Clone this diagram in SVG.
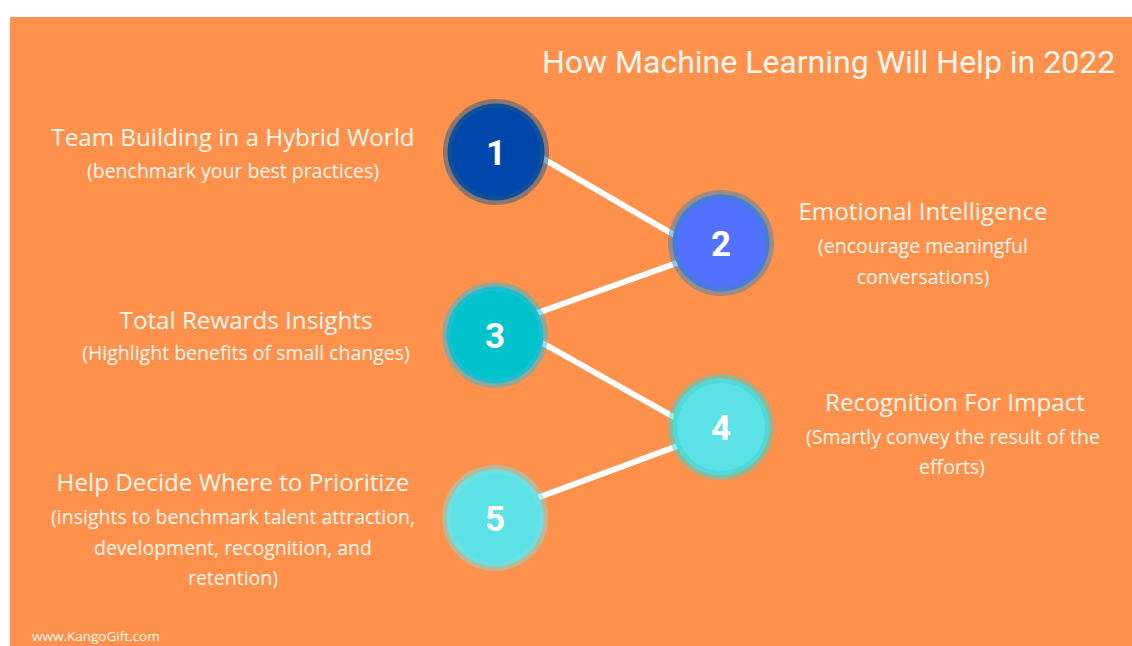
<svg xmlns="http://www.w3.org/2000/svg" width="1132" height="646" viewBox="0 0 1132 646">
<style>
.h{font-family:"Open Sans","Liberation Sans",sans-serif;font-size:24.2px;fill:#fff7ee;text-anchor:middle}
.s{font-family:"Open Sans","Liberation Sans",sans-serif;font-size:19.5px;fill:#fff7ee;text-anchor:middle}
.n{font-family:Roboto,"Liberation Sans",sans-serif;font-size:35px;font-weight:700;fill:#ffffff;text-anchor:middle}
.t{font-family:Roboto,"Liberation Sans",sans-serif;font-size:32px;fill:#fff7ee}
.c{stroke-width:9;stroke-opacity:0.5}
.ln{stroke:#ffffff;stroke-width:6;stroke-linecap:butt;fill:none}
</style>
<rect x="0" y="0" width="1132" height="646" fill="#ffffff"/>
<rect x="10" y="17" width="1122" height="629" fill="#ff914d"/>
<text class="t" x="542" y="73">How Machine Learning Will Help in 2022</text>
<g id="connectors">
<line class="ln" x1="530" y1="151" x2="688" y2="243"/>
<line class="ln" x1="688" y1="259" x2="526" y2="317"/>
<line class="ln" x1="530" y1="336" x2="688" y2="425"/>
<line class="ln" x1="691" y1="441" x2="526" y2="502"/>
</g>
<g id="node1">
<circle class="c" cx="496" cy="152" r="48.5" fill="#0047ab" stroke="#1c5a8a"/>
<text class="n" x="496" y="165">1</text>
<text class="h" x="233" y="146">Team Building in a Hybrid World</text>
<text class="s" x="233" y="178">(benchmark your best practices)</text>
</g>
<g id="node2">
<circle class="c" cx="721" cy="243" r="48.5" fill="#5271ff" stroke="#3a88b8"/>
<text class="n" x="721" y="256">2</text>
<text class="h" x="923" y="220">Emotional Intelligence</text>
<text class="s" x="923" y="253">(encourage meaningful</text>
<text class="s" x="923" y="284">conversations)</text>
</g>
<g id="node3">
<circle class="c" cx="495" cy="335" r="48.5" fill="#00c2cb" stroke="#30bcd8"/>
<text class="n" x="495" y="348">3</text>
<text class="h" x="246" y="329">Total Rewards Insights</text>
<text class="s" x="246" y="360">(Highlight benefits of small changes)</text>
</g>
<g id="node4">
<circle class="c" cx="721" cy="427" r="48.5" fill="#5ce1e6" stroke="#3bd5cf"/>
<text class="n" x="721" y="440">4</text>
<text class="h" x="955" y="411">Recognition For Impact</text>
<text class="s" x="953" y="444">(Smartly convey the result of the</text>
<text class="s" x="952" y="474">efforts)</text>
</g>
<g id="node5">
<circle class="c" cx="495" cy="518" r="48.5" fill="#5ce1e6" stroke="#79dfdf"/>
<text class="n" x="495" y="531">5</text>
<text class="h" x="233" y="491">Help Decide Where to Prioritize</text>
<text class="s" x="233" y="524">(insights to benchmark talent attraction,</text>
<text class="s" x="233" y="555">development, recognition, and</text>
<text class="s" x="233" y="585">retention)</text>
</g>
<text x="32" y="641" font-family="'Open Sans','Liberation Sans',sans-serif" font-size="13.5" fill="#fff7ee">www.KangoGift.com</text>
</svg>
